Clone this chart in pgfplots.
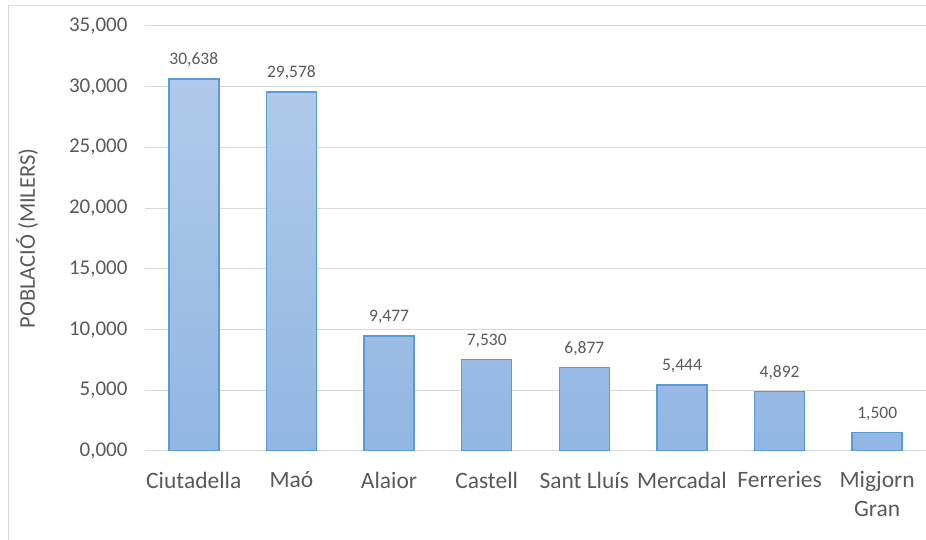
\documentclass[border=0pt]{standalone}
\usepackage{pgfplots}
\pgfplotsset{compat=1.18}
\usepackage{fontspec}
\setmainfont{Carlito}
\definecolor{txtgray}{HTML}{595959}
\definecolor{gridgray}{HTML}{D9D9D9}
\definecolor{barline}{HTML}{5B9BD5}
\definecolor{bartop}{HTML}{B1CAE9}
\definecolor{barbot}{HTML}{92B6E3}
\begin{document}
\begin{tikzpicture}
  \useasboundingbox (0,0) rectangle (926pt,540pt);
  % chart frame (only top and left edges are inside the crop)
  \draw[gridgray, line width=1pt] (8pt,0pt) -- (8pt,534pt) -- (926pt,534pt);
  \begin{axis}[
      at={(145pt,89pt)}, anchor=south west,
      scale only axis,
      width=781pt, height=425pt,
      ybar, bar width=50pt,
      xmin=-0.5, xmax=7.5,
      ymin=0, ymax=35,
      ytick distance=5,
      xtick=data,
      xticklabels={Ciutadella,Maó,Alaior,Castell,Sant Lluís,Mercadal,Ferreries,Migjorn\\Gran},
      axis line style={draw=none},
      major tick style={draw=none},
      ymajorgrids,
      grid style={gridgray, line width=1pt},
      /pgf/number format/.cd, fixed, fixed zerofill, precision=3, use comma, 1000 sep={},
      assume math mode=true,
      /pgfplots/.cd,
      yticklabel style={font=\fontsize{21}{24}\selectfont, text=txtgray, xshift=-14pt},
      xticklabel style={font=\fontsize{23.5}{29}\selectfont, text=txtgray, align=center, yshift=-13pt},
      ylabel={POBLACIÓ (MILERS)},
      ylabel style={at={(axis description cs:-0.151,0.5)}, rotate=0, anchor=center,
        font=\fontsize{22.5}{26}\selectfont, text=txtgray},
      nodes near coords,
      nodes near coords style={font=\fontsize{17.5}{20}\selectfont, text=txtgray, anchor=south, yshift=8pt},
    ]
    \addplot[draw=barline, line width=1.4pt, shading=axis, top color=bartop, bottom color=barbot]
      coordinates {(0,30.638) (1,29.578) (2,9.477) (3,7.530) (4,6.877) (5,5.444) (6,4.892) (7,1.500)};
  \end{axis}
\end{tikzpicture}
\end{document}
